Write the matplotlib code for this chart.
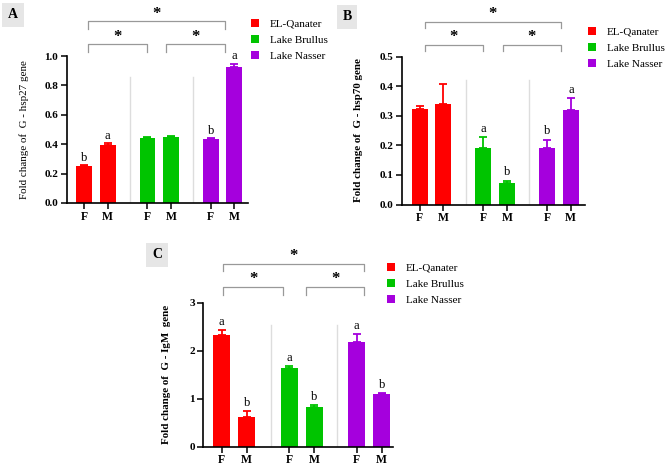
import numpy as np
import matplotlib
matplotlib.use('Agg')
import matplotlib.pyplot as plt

plt.rcParams['font.family'] = 'Liberation Serif'

groups = ['EL-Qanater', 'Lake Brullus', 'Lake Nasser']
colors = ['#FF0000', '#00C400', '#A500DD']
sexes = ['F', 'M']

hsp27_mean = [0.250, 0.395, 0.440, 0.447, 0.435, 0.927]
hsp27_err = [0.007, 0.010, 0.012, 0.010, 0.004, 0.020]
hsp27_letters = ['b', 'a', '', '', 'b', 'a']

hsp70_mean = [0.323, 0.340, 0.191, 0.073, 0.192, 0.318]
hsp70_err = [0.010, 0.068, 0.037, 0.008, 0.027, 0.041]
hsp70_letters = ['', '', 'a', 'b', 'b', 'a']

igm_mean = [2.33, 0.63, 1.65, 0.82, 2.18, 1.10]
igm_err = [0.11, 0.11, 0.04, 0.06, 0.17, 0.015]
igm_letters = ['a', 'b', 'a', 'b', 'a', 'b']

pos = np.array([0, 1, 2.7, 3.7, 5.4, 6.4])
W, H = 668, 466
fig = plt.figure(figsize=(W / 100, H / 100), dpi=100)


def px_axes(left, right, top, bottom):
    return fig.add_axes([left / W, 1 - bottom / H, (right - left) / W, (bottom - top) / H])


def panel(ax, mean, err, letters, ylim, yticks, fmt, xlim, ylabel, lab_x, lab_bold,
          sep_top, brackets, star_gap, tick_len, letter_off):
    for g in range(3):
        idx = [2 * g, 2 * g + 1]
        ax.bar(pos[idx], [mean[i] for i in idx], width=0.68, color=colors[g],
               label=groups[g], zorder=2)
        ax.errorbar(pos[idx], [mean[i] for i in idx],
                    yerr=[[0, 0], [err[i] for i in idx]], fmt='none',
                    ecolor=colors[g], elinewidth=1.3, capsize=3, capthick=1.3, zorder=3)
    for i, t in enumerate(letters):
        if t:
            ax.text(pos[i], mean[i] + err[i] + letter_off, t, ha='center', va='bottom',
                    fontsize=9)
    for s in [1.95, 4.62]:
        ax.plot([s, s], [0, sep_top], color='#dddddd', lw=1, zorder=1)
    ax.set_xlim(*xlim)
    ax.set_ylim(*ylim)
    ax.set_yticks(yticks)
    ax.set_yticklabels([fmt.format(v) for v in yticks], fontweight='bold', fontsize=8)
    ax.set_xticks(pos)
    ax.set_xticklabels(sexes * 3, fontweight='bold', fontsize=8.5)
    ax.spines['top'].set_visible(False)
    ax.spines['right'].set_visible(False)
    ax.spines['left'].set_linewidth(1.2)
    ax.spines['bottom'].set_linewidth(1.2)
    ax.tick_params(width=1.1, length=4)
    ax.tick_params(axis='x', pad=1.5)
    ax.tick_params(axis='y', pad=2)
    ax.set_ylabel(ylabel, fontsize=7.9, fontweight='bold' if lab_bold else 'normal')
    ax.yaxis.set_label_coords(lab_x, 0.5)
    for x0, x1, y in brackets:
        ax.plot([x0, x0, x1, x1], [y - tick_len, y, y, y - tick_len], color='#999999',
                lw=0.9, clip_on=False)
        ax.text((x0 + x1) / 2, y + star_gap, '*', ha='center', va='center',
                fontsize=12, fontweight='bold')


def legend(ax, x, y):
    ax.legend(loc='upper left', bbox_to_anchor=(x / W, 1 - y / H),
              bbox_transform=fig.transFigure, frameon=False, fontsize=8,
              handlelength=0.7, handleheight=0.7, labelspacing=0.55,
              handletextpad=1.0, borderaxespad=0, borderpad=0)


axA = px_axes(66.7, 248, 56, 203)
panel(axA, hsp27_mean, hsp27_err, hsp27_letters, (0, 1.0), [0, 0.2, 0.4, 0.6, 0.8, 1.0],
      '{:.1f}', (-0.74, 6.98), 'Fold change of  G - hsp27 gene', -0.21, False, 0.86,
      [(0.17, 6.0, 1.238), (0.17, 2.7, 1.082), (3.5, 6.0, 1.082)], 0.045, 0.055, 0.01)
legend(axA, 251, 19)

axB = px_axes(402, 585, 56.5, 204.5)
panel(axB, hsp70_mean, hsp70_err, hsp70_letters, (0, 0.5), [0, 0.1, 0.2, 0.3, 0.4, 0.5],
      '{:.1f}', (-0.75, 7.0), 'Fold change of  G - hsp70 gene', -0.215, True, 0.42,
      [(0.22, 5.97, 0.617), (0.22, 2.67, 0.539), (3.52, 5.97, 0.539)], 0.028, 0.022, 0.008)
legend(axB, 588, 27)

axC = px_axes(203.3, 393, 303, 446.7)
panel(axC, igm_mean, igm_err, igm_letters, (0, 3), [0, 1, 2, 3],
      '{:.0f}', (-0.74, 6.85), 'Fold change of  G - IgM  gene', -0.17, True, 2.55,
      [(0.05, 5.7, 3.82), (0.05, 2.46, 3.33), (3.36, 5.7, 3.33)], 0.17, 0.16, 0.04)
legend(axC, 387, 263)

box = dict(boxstyle='square,pad=0.4', facecolor='#e6e6e6', edgecolor='none')
fig.text(13 / W, 1 - 15 / H, 'A', fontsize=10, fontweight='bold', ha='center', va='center', bbox=box)
fig.text(347 / W, 1 - 17 / H, 'B', fontsize=10, fontweight='bold', ha='center', va='center', bbox=box)
fig.text(157 / W, 1 - 255 / H, 'C', fontsize=10, fontweight='bold', ha='center', va='center', bbox=box)

fig.savefig('out.png', dpi=100)
